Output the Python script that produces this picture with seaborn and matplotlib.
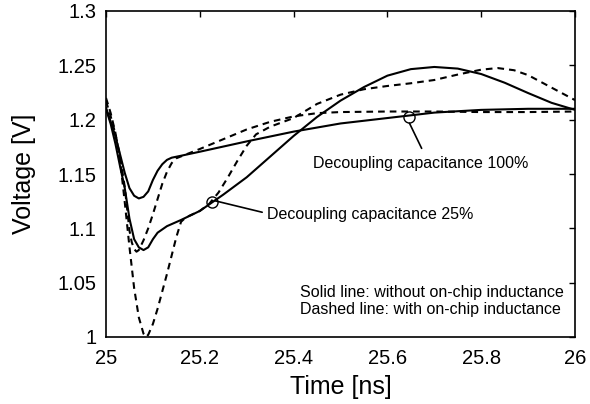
import matplotlib
matplotlib.use("Agg")
import matplotlib.pyplot as plt
import seaborn as sns
import pandas as pd

# ---- data ----
s100_t = [25.0, 25.01, 25.02, 25.03, 25.04, 25.05, 25.06, 25.07, 25.08, 25.09, 25.10, 25.11,
          25.12, 25.13, 25.14, 25.16, 25.2, 25.3, 25.4, 25.5, 25.6, 25.7, 25.8, 25.9, 26.0]
s100_v = [1.211, 1.198, 1.185, 1.168, 1.151, 1.137, 1.130, 1.1275, 1.129, 1.134, 1.1445, 1.153,
          1.159, 1.163, 1.165, 1.1668, 1.1705, 1.180, 1.189, 1.1965, 1.2015, 1.2065, 1.209, 1.210, 1.210]

s25_t = [25.0, 25.01, 25.02, 25.03, 25.04, 25.05, 25.06, 25.07, 25.08, 25.09, 25.10, 25.11, 25.13,
         25.16, 25.2, 25.25, 25.3, 25.35, 25.4, 25.45, 25.5, 25.55, 25.6, 25.65, 25.7, 25.75, 25.8,
         25.85, 25.9, 25.95, 26.0]
s25_v = [1.210, 1.196, 1.178, 1.157, 1.137, 1.109, 1.090, 1.0825, 1.080, 1.0825, 1.090, 1.096, 1.102,
         1.1077, 1.116, 1.131, 1.147, 1.166, 1.185, 1.2025, 1.2175, 1.230, 1.2405, 1.2465, 1.2485,
         1.247, 1.242, 1.234, 1.2245, 1.2155, 1.209]

d100_t = [25.0, 25.01, 25.02, 25.03, 25.04, 25.05, 25.055, 25.06, 25.065, 25.07, 25.08, 25.09, 25.10,
          25.11, 25.12, 25.13, 25.14, 25.15, 25.2, 25.25, 25.3, 25.35, 25.4, 25.45, 25.5, 25.6, 25.7,
          25.8, 25.9, 26.0]
d100_v = [1.217, 1.203, 1.187, 1.166, 1.138, 1.098, 1.087, 1.081, 1.0785, 1.080, 1.089, 1.100, 1.113,
          1.127, 1.141, 1.152, 1.160, 1.1645, 1.173, 1.182, 1.191, 1.198, 1.203, 1.206, 1.207, 1.2075,
          1.2075, 1.207, 1.207, 1.2075]

d25_t = [25.0, 25.01, 25.02, 25.03, 25.04, 25.05, 25.06, 25.07, 25.08, 25.085, 25.09, 25.10, 25.11,
         25.12, 25.13, 25.14, 25.15, 25.16, 25.17, 25.2, 25.22, 25.24, 25.26, 25.28, 25.30, 25.32,
         25.35, 25.4, 25.45, 25.5, 25.55, 25.6, 25.65, 25.7, 25.75, 25.8, 25.835, 25.87, 25.9, 25.95, 26.0]
d25_v = [1.220, 1.206, 1.188, 1.163, 1.124, 1.083, 1.045, 1.018, 1.003, 1.000, 1.002, 1.012, 1.026,
         1.042, 1.058, 1.075, 1.092, 1.106, 1.110, 1.116, 1.1225, 1.133, 1.147, 1.162, 1.176, 1.1865,
         1.1935, 1.2015, 1.2145, 1.223, 1.228, 1.231, 1.2335, 1.2365, 1.2415, 1.246, 1.2475, 1.2455,
         1.241, 1.2295, 1.218]

x_ticks = [25, 25.2, 25.4, 25.6, 25.8, 26]
x_ticklabels = ["25", "25.2", "25.4", "25.6", "25.8", "26"]
y_ticks = [1.0, 1.05, 1.1, 1.15, 1.2, 1.25, 1.3]
y_ticklabels = ["1", "1.05", "1.1", "1.15", "1.2", "1.25", "1.3"]

# annotation anchors (circle centre, line end, text position)
ann100_circle = (25.645, 1.2022)
ann100_line = [(25.647, 1.1968), (25.673, 1.1736)]
ann100_text = (25.441, 1.1598, "Decoupling capacitance 100%")
ann25_circle = (25.225, 1.1245)
ann25_line = [(25.231, 1.1255), (25.333, 1.1148)]
ann25_text = (25.344, 1.1123, "Decoupling capacitance 25%")
note_text = (25.4136, 1.0333, "Solid line: without on-chip inductance\nDashed line: with on-chip inductance")

# ---- style ----
sns.set_theme(style="white")
plt.rcParams["font.family"] = ["Liberation Sans", "DejaVu Sans"]

fig = plt.figure(figsize=(5.9, 4.04), dpi=100)
W, H = 590, 404
ax = fig.add_axes([106 / W, 1 - 337 / H, (575 - 106) / W, (337 - 11) / H])

dash = (0, (3.2, 2.4))
series = [
    (s100_t, s100_v, "-"),
    (s25_t, s25_v, "-"),
    (d100_t, d100_v, dash),
    (d25_t, d25_v, dash),
]
for t, v, ls in series:
    df = pd.DataFrame({"t": t, "v": v})
    sns.lineplot(data=df, x="t", y="v", ax=ax, color="black", linewidth=1.5,
                 linestyle=ls, sort=False, estimator=None)

# annotations
for circ, line, txt in [(ann100_circle, ann100_line, ann100_text),
                        (ann25_circle, ann25_line, ann25_text)]:
    ax.plot([circ[0]], [circ[1]], marker="o", markersize=8, markerfacecolor="none",
            markeredgecolor="black", markeredgewidth=1.0, linestyle="none")
    ax.plot([line[0][0], line[1][0]], [line[0][1], line[1][1]], color="black", linewidth=1.2)
    ax.text(txt[0], txt[1], txt[2], fontsize=11.5, ha="left", va="center", color="black")

ax.text(note_text[0], note_text[1], note_text[2], fontsize=11.5, ha="left", va="center",
        color="black", linespacing=1.15)

ax.set_xlim(25, 26)
ax.set_ylim(1.0, 1.3)
ax.set_xticks(x_ticks)
ax.set_xticklabels(x_ticklabels)
ax.set_yticks(y_ticks)
ax.set_yticklabels(y_ticklabels)
ax.tick_params(axis="both", which="major", direction="in", length=4, width=1,
               top=True, right=True, labelsize=14.5, colors="black")
ax.tick_params(axis="x", pad=9)
ax.tick_params(axis="y", pad=7)
for sp in ax.spines.values():
    sp.set_visible(True)
    sp.set_color("black")
    sp.set_linewidth(1.2)

ax.set_xlabel("Time [ns]", fontsize=18, labelpad=5, color="black")
ax.set_ylabel("Voltage [V]", fontsize=18, labelpad=15, color="black")
ax.grid(False)
ax.set_facecolor("white")
fig.patch.set_facecolor("white")

fig.savefig("out.png", dpi=100, facecolor="white")
